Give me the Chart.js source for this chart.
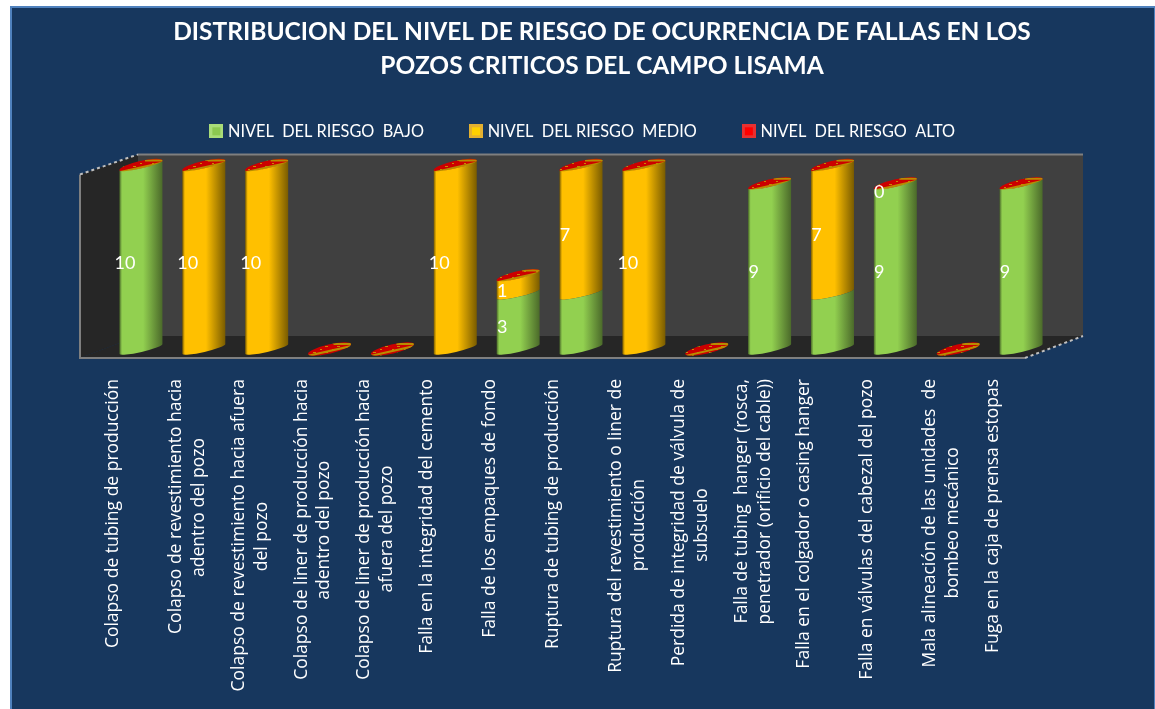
<!DOCTYPE html>
<html>
<head>
<meta charset="utf-8">
<title>Nivel de riesgo</title>
<script src="https://cdn.jsdelivr.net/npm/chart.js@4"></script>
<style>
  html, body { margin: 0; height: 100%; background: #fff; overflow: hidden; }
  #panel { position: absolute; left: 10px; top: 6px; width: 1142px; height: 703px; background: #17375e; border: 2px solid #4f81bd; border-bottom: 0; }
  #chart { position: absolute; left: 0; top: 0; }
</style>
</head>
<body>
<div id="panel"></div>
<canvas id="chart" width="1155" height="709"></canvas>
<script>
const categories = [
  ["Colapso de tubing de producción"],
  ["Colapso de revestimiento hacia", "adentro del pozo"],
  ["Colapso de revestimiento hacia afuera", "del pozo"],
  ["Colapso de liner de producción hacia", "adentro del pozo"],
  ["Colapso de liner de producción hacia", "afuera del pozo"],
  ["Falla en la integridad del cemento"],
  ["Falla de los empaques de fondo"],
  ["Ruptura de tubing de producción"],
  ["Ruptura del revestimiento o liner de", "producción"],
  ["Perdida de integridad de válvula de", "subsuelo"],
  ["Falla de tubing  hanger (rosca,", "penetrador (orificio del cable))"],
  ["Falla en el colgador o casing hanger"],
  ["Falla en válvulas del cabezal del pozo"],
  ["Mala alineación de las unidades  de", "bombeo mecánico"],
  ["Fuga en la caja de prensa estopas"]
];
const riesgoBajo  = [10, 0, 0, 0, 0, 0, 3, 3, 0, 0, 9, 3, 9, 0, 9];
const riesgoMedio = [0, 10, 10, 0, 0, 10, 1, 7, 10, 0, 0, 7, 0, 0, 0];
const riesgoAlto  = [0, 0, 0, 0, 0, 0, 0, 0, 0, 0, 0, 0, 0, 0, 0];
// the picture only prints some of the values
const etiquetasBajo  = [10, null, null, null, null, null, 3, null, null, null, 9, null, 9, null, 9];
const etiquetasMedio = [null, 10, 10, null, null, 10, 1, 7, 10, null, null, 7, 0, null, null];
const seriesNames = ["NIVEL  DEL RIESGO  BAJO", "NIVEL  DEL RIESGO  MEDIO", "NIVEL  DEL RIESGO  ALTO"];
const titleLines = ["DISTRIBUCION DEL NIVEL DE RIESGO DE OCURRENCIA DE FALLAS EN LOS", "POZOS CRITICOS DEL CAMPO LISAMA"];

const TICK_FONT = '17.5px "Open Sans"';

// ticks are right aligned once rotated, so short lines get trailing spaces to sit centred
function centreLines(lines) {
  const m = document.createElement("canvas").getContext("2d");
  m.font = TICK_FONT;
  const widest = Math.max(...lines.map(l => m.measureText(l).width));
  const space = m.measureText(" ").width;
  return lines.map(l => l + " ".repeat(Math.round((widest - m.measureText(l).width) / 2 / space)));
}

function cylinderFill(ctx, x, w, dark, bright) {
  const g = ctx.createLinearGradient(x - w / 2, 0, x + w / 2, 0);
  g.addColorStop(0, dark);
  g.addColorStop(0.06, bright);
  g.addColorStop(0.55, bright);
  g.addColorStop(1, dark);
  return g;
}

// small bevelled square for the legend
function legendSwatch(color, edge) {
  const c = document.createElement("canvas");
  c.width = c.height = 14;
  const s = c.getContext("2d");
  s.fillStyle = edge;
  s.fillRect(0, 0, 14, 14);
  s.fillStyle = color;
  s.fillRect(3, 3, 8, 8);
  return c;
}

// speckled red and orange for the lids
function lidPattern(ctx) {
  const c = document.createElement("canvas");
  c.width = 12;
  c.height = 6;
  const s = c.getContext("2d");
  s.fillStyle = "#cc0000";
  s.fillRect(0, 0, 12, 6);
  s.fillStyle = "#c98a00";
  s.fillRect(1, 4, 3, 1);
  s.fillRect(8, 1, 2, 1);
  return ctx.createPattern(c, "repeat");
}

const shades = [
  { dark: "#4b6a2a", bright: "#92d050", swatch: "#8cc850", edge: "#a9dc78" },
  { dark: "#7a5c00", bright: "#ffc000", swatch: "#ffd000", edge: "#e3b030" },
  { swatch: "#ff0000", edge: "#e83030" }
];

const cylinders = {
  id: "cylinders",
  afterLayout(chart) {
    // title sits right of centre in the original
    chart.titleBlock.left += 42;
    chart.legend.left += 6;
    chart.titleBlock.top -= 7.5;
    chart.legend.top -= 16;
  },
  beforeDatasetsDraw(chart) {
    const { ctx, chartArea: a } = chart;
    const backL = a.left + 28.5, backR = a.right + 30.5, backT = a.top - 11, backB = a.bottom - 13;
    const frontL = a.left - 29.5, frontR = a.right - 27.5, frontB = a.bottom + 9, frontT = a.top + 9;
    ctx.save();
    ctx.fillStyle = "#404040";
    ctx.fillRect(backL, backT, backR - backL, backB - backT);
    ctx.fillStyle = "#262626";
    ctx.beginPath();
    ctx.moveTo(frontL, frontT);
    ctx.lineTo(backL, backT);
    ctx.lineTo(backL, backB);
    ctx.lineTo(frontL, frontB);
    ctx.closePath();
    ctx.fill();
    ctx.beginPath();
    ctx.moveTo(backL, backB);
    ctx.lineTo(backR, backB);
    ctx.lineTo(frontR, frontB);
    ctx.lineTo(frontL, frontB);
    ctx.closePath();
    ctx.fill();
    ctx.strokeStyle = "#7f7f7f";
    ctx.lineWidth = 2;
    ctx.beginPath();
    ctx.moveTo(backL, backT);
    ctx.lineTo(backR, backT);
    ctx.moveTo(frontL, frontT);
    ctx.lineTo(frontL, frontB);
    ctx.lineTo(frontR, frontB);
    ctx.stroke();
    ctx.strokeStyle = "#bfbfbf";
    ctx.setLineDash([3, 3]);
    ctx.beginPath();
    ctx.moveTo(frontL, frontT);
    ctx.lineTo(backL, backT);
    ctx.moveTo(frontR, frontB);
    ctx.lineTo(backR, backB);
    ctx.stroke();
    ctx.restore();
  },
  beforeDatasetDraw(chart, args) {
    const { ctx } = chart;
    const meta = chart.getDatasetMeta(args.index);
    const tilt = Math.atan(-10 / 43);
    meta.data.forEach(bar => {
      const rx = bar.width / 2 / Math.cos(tilt), ry = 3;
      ctx.save();
      if (args.index === 2) {
        // zero height series: this is the lid of every stack
        ctx.beginPath();
        ctx.ellipse(bar.x, bar.y, rx, ry + 1.5, tilt, 0, Math.PI * 2);
        ctx.fillStyle = lidPattern(ctx);
        ctx.fill();
        ctx.clip();
        ctx.strokeStyle = "#b98c00";
        ctx.lineWidth = 2;
        ctx.beginPath();
        ctx.moveTo(bar.x - rx, bar.y + 7);
        ctx.lineTo(bar.x + rx, bar.y - 3);
        ctx.moveTo(bar.x + 4, bar.y - 5);
        ctx.lineTo(bar.x + rx, bar.y - 5);
        ctx.stroke();
      } else if (Math.abs(bar.base - bar.y) > 0.5) {
        ctx.beginPath();
        ctx.ellipse(bar.x, bar.y, rx, ry, tilt, Math.PI, 0, true);
        ctx.ellipse(bar.x, bar.base, rx, ry, tilt, 0, Math.PI, false);
        ctx.closePath();
        ctx.fillStyle = cylinderFill(ctx, bar.x, bar.width, shades[args.index].dark, shades[args.index].bright);
        ctx.fill();
      }
      ctx.restore();
    });
    return false;
  },
  afterDatasetsDraw(chart) {
    const { ctx } = chart;
    ctx.save();
    ctx.font = "18px Lato";
    ctx.fillStyle = "#fff";
    ctx.textAlign = "center";
    ctx.textBaseline = "middle";
    [etiquetasBajo, etiquetasMedio].forEach((list, ds) => {
      const meta = chart.getDatasetMeta(ds);
      list.forEach((v, i) => {
        if (v === null) return;
        const bar = meta.data[i];
        ctx.fillText(v, bar.x - 16, (bar.y + bar.base) / 2 + (v === 0 ? 8 : 6));
      });
    });
    ctx.restore();
  }
};

new Chart(document.getElementById("chart"), {
  type: "bar",
  data: {
    labels: categories.map(centreLines),
    datasets: [
      { label: seriesNames[0], data: riesgoBajo, backgroundColor: "#92d050" },
      { label: seriesNames[1], data: riesgoMedio, backgroundColor: "#ffc000" },
      { label: seriesNames[2], data: riesgoAlto, backgroundColor: "#ff0000" }
    ]
  },
  options: {
    responsive: false,
    animation: false,
    layout: { padding: { left: 109.5, right: 102.5, top: 22.5, bottom: 0 } },
    datasets: { bar: { categoryPercentage: 1, barPercentage: 0.684 } },
    scales: {
      x: {
        stacked: true,
        grid: { display: false },
        border: { display: false },
        afterFit(scale) { scale.height = 360; },
        ticks: {
          autoSkip: false,
          minRotation: 90,
          maxRotation: 90,
          labelOffset: -28,
          padding: 22,
          color: "#fff",
          font: { family: "Open Sans", size: 17.5, lineHeight: 1.31 }
        }
      },
      y: { stacked: true, min: 0, max: 10, display: false }
    },
    plugins: {
      title: {
        display: true,
        text: titleLines,
        color: "#fff",
        font: { family: "Lato", size: 24.5, weight: "bold", lineHeight: 1.39 },
        padding: { top: 0, bottom: 0 }
      },
      legend: {
        position: "top",
        labels: {
          color: "#fff",
          font: { family: "Lato", size: 16.3 },
          usePointStyle: true,
          pointStyleWidth: 7,
          boxHeight: 14,
          padding: 48.5,
          generateLabels(chart) {
            return Chart.defaults.plugins.legend.labels.generateLabels(chart).map((item, i) => {
              item.pointStyle = legendSwatch(shades[i].swatch, shades[i].edge);
              return item;
            });
          }
        }
      },
      tooltip: { enabled: false }
    }
  },
  plugins: [cylinders]
});
</script>
</body>
</html>
